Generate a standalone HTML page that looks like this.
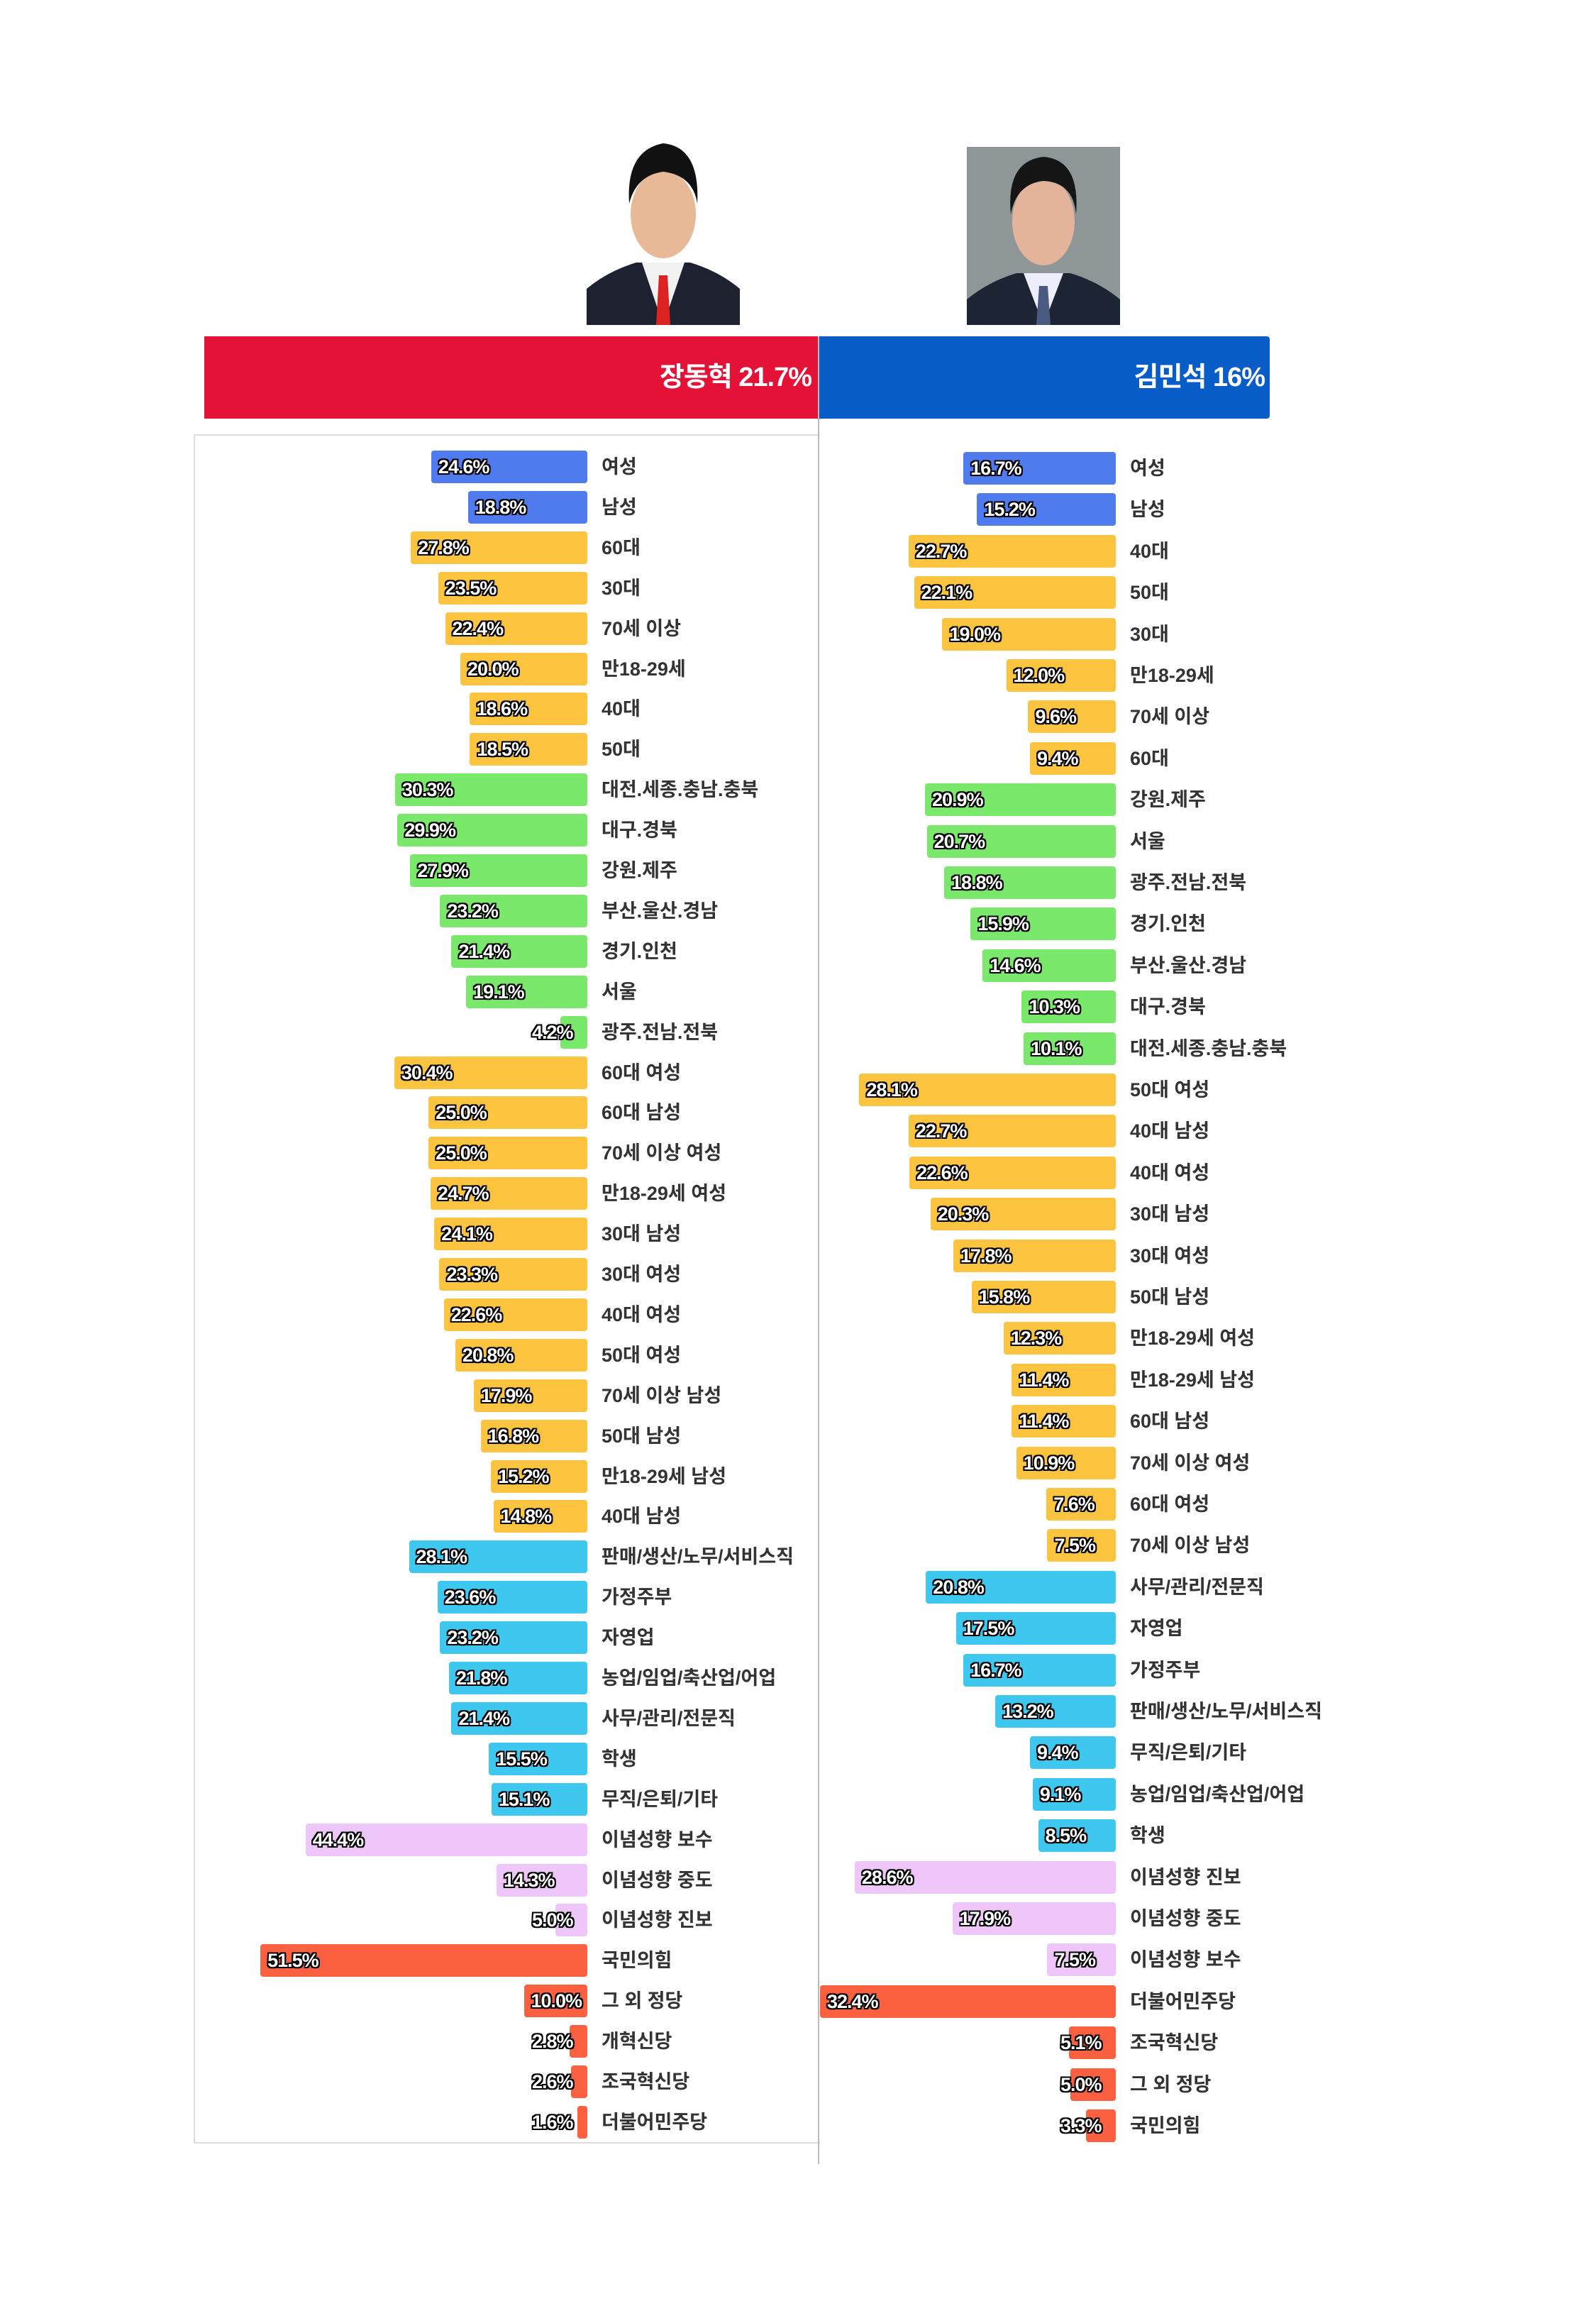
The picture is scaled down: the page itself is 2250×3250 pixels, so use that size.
<!DOCTYPE html>
<html><head><meta charset="utf-8"><style>
body{margin:0;width:2250px;height:3250px;background:#fff;position:relative;overflow:hidden;font-family:"Liberation Sans","Noto Sans CJK KR",sans-serif;}
.a{position:absolute}
.bar{position:absolute;height:46px;border-radius:4px}
.pv{position:absolute;font-size:27px;font-weight:bold;color:#fff;line-height:46px;letter-spacing:-1px;
text-shadow:-2px -2px 0 #000,2px -2px 0 #000,-2px 2px 0 #000,2px 2px 0 #000,0 2px 0 #000,0 -2px 0 #000,2px 0 0 #000,-2px 0 0 #000;}
.lb{position:absolute;font-size:27px;font-weight:bold;color:#333;line-height:46px;white-space:nowrap}
.hd{position:absolute;color:#fff;font-weight:bold;font-size:38px;line-height:116px;letter-spacing:-1px}
</style></head><body>
<svg class="a" style="left:827px;top:192px" width="216" height="266" viewBox="0 0 216 266">
<rect width="216" height="266" fill="#fff"/>
<path d="M0 266 L0 215 Q30 190 70 178 L146 178 Q186 190 216 215 L216 266Z" fill="#1e2230"/>
<path d="M78 178 L108 266 L138 178Z" fill="#f2f2f2"/>
<path d="M102 196 L114 196 L118 266 L98 266Z" fill="#d22"/>
<ellipse cx="108" cy="110" rx="46" ry="62" fill="#e7b996"/>
<path d="M60 95 Q55 20 108 10 Q160 15 156 95 Q150 55 108 50 Q70 55 60 95Z" fill="#111"/>
</svg>
<svg class="a" style="left:1363px;top:207px" width="216" height="251" viewBox="0 0 216 251">
<rect width="216" height="251" fill="#8e9698"/>
<path d="M0 251 L0 215 Q30 190 70 178 L146 178 Q186 190 216 215 L216 251Z" fill="#1d2433"/>
<path d="M80 178 L108 251 L136 178Z" fill="#eef"/>
<path d="M102 196 L114 196 L118 251 L98 251Z" fill="#4a5a80"/>
<ellipse cx="108" cy="105" rx="44" ry="62" fill="#e3b49a"/>
<path d="M62 95 Q55 20 108 14 Q160 18 154 95 Q150 50 108 48 Q70 52 62 95Z" fill="#151515"/>
</svg>
<div class="a" style="left:288px;top:474px;width:866px;height:116px;background:#e51238"></div>
<div class="a" style="left:1155px;top:474px;width:635px;height:116px;background:#085cc8;border-radius:0 4px 4px 0"></div>
<div class="hd" style="right:1106px;top:474px">장동혁 21.7%</div>
<div class="hd" style="right:467px;top:474px">김민석 16%</div>
<div class="a" style="left:273px;top:612px;width:881px;height:2405px;border-left:2px solid #ddd;border-top:2px solid #ddd;border-bottom:2px solid #ddd"></div>
<div class="a" style="left:1153px;top:474px;width:2px;height:2576px;background:#bbb"></div>
<div id="c"></div>
<script>
const C={b:'#4f7bef',y:'#fdc43f',g:'#7ae86a',c:'#3ec8f0',l:'#efc6f9',r:'#fb6040'};
const L=[['b',24.6,'여성'],['b',18.8,'남성'],['y',27.8,'60대'],['y',23.5,'30대'],['y',22.4,'70세 이상'],['y',20.0,'만18-29세'],['y',18.6,'40대'],['y',18.5,'50대'],
['g',30.3,'대전.세종.충남.충북'],['g',29.9,'대구.경북'],['g',27.9,'강원.제주'],['g',23.2,'부산.울산.경남'],['g',21.4,'경기.인천'],['g',19.1,'서울'],['g',4.2,'광주.전남.전북'],
['y',30.4,'60대 여성'],['y',25.0,'60대 남성'],['y',25.0,'70세 이상 여성'],['y',24.7,'만18-29세 여성'],['y',24.1,'30대 남성'],['y',23.3,'30대 여성'],['y',22.6,'40대 여성'],['y',20.8,'50대 여성'],['y',17.9,'70세 이상 남성'],['y',16.8,'50대 남성'],['y',15.2,'만18-29세 남성'],['y',14.8,'40대 남성'],
['c',28.1,'판매/생산/노무/서비스직'],['c',23.6,'가정주부'],['c',23.2,'자영업'],['c',21.8,'농업/임업/축산업/어업'],['c',21.4,'사무/관리/전문직'],['c',15.5,'학생'],['c',15.1,'무직/은퇴/기타'],
['l',44.4,'이념성향 보수'],['l',14.3,'이념성향 중도'],['l',5.0,'이념성향 진보'],
['r',51.5,'국민의힘'],['r',10.0,'그 외 정당'],['r',2.8,'개혁신당'],['r',2.6,'조국혁신당'],['r',1.6,'더불어민주당']];
const R=[['b',16.7,'여성'],['b',15.2,'남성'],['y',22.7,'40대'],['y',22.1,'50대'],['y',19.0,'30대'],['y',12.0,'만18-29세'],['y',9.6,'70세 이상'],['y',9.4,'60대'],
['g',20.9,'강원.제주'],['g',20.7,'서울'],['g',18.8,'광주.전남.전북'],['g',15.9,'경기.인천'],['g',14.6,'부산.울산.경남'],['g',10.3,'대구.경북'],['g',10.1,'대전.세종.충남.충북'],
['y',28.1,'50대 여성'],['y',22.7,'40대 남성'],['y',22.6,'40대 여성'],['y',20.3,'30대 남성'],['y',17.8,'30대 여성'],['y',15.8,'50대 남성'],['y',12.3,'만18-29세 여성'],['y',11.4,'만18-29세 남성'],['y',11.4,'60대 남성'],['y',10.9,'70세 이상 여성'],['y',7.6,'60대 여성'],['y',7.5,'70세 이상 남성'],
['c',20.8,'사무/관리/전문직'],['c',17.5,'자영업'],['c',16.7,'가정주부'],['c',13.2,'판매/생산/노무/서비스직'],['c',9.4,'무직/은퇴/기타'],['c',9.1,'농업/임업/축산업/어업'],['c',8.5,'학생'],
['l',28.6,'이념성향 진보'],['l',17.9,'이념성향 중도'],['l',7.5,'이념성향 보수'],
['r',32.4,'더불어민주당'],['r',5.1,'조국혁신당'],['r',5.0,'그 외 정당'],['r',3.3,'국민의힘']];
let h='';
function draw(D,right,scale,y0,pitch){
 D.forEach((d,i)=>{
  const y=Math.round(y0+i*pitch-23), w=d[1]*scale, l=right-w;
  const t=d[1].toFixed(1)+'%';
  const tl=Math.min(l+10,right-78);
  h+=`<div class="bar" style="left:${l}px;top:${y}px;width:${w}px;background:${C[d[0]]}"></div>`;
  h+=`<div class="pv" style="left:${tl}px;top:${y}px">${t}</div>`;
  h+=`<div class="lb" style="left:${right+20}px;top:${y}px">${d[2]}</div>`;
 });
}
draw(L,828,8.95,658,56.9);
draw(R,1573,12.87,660,58.4);
document.getElementById('c').innerHTML=h;
</script>
</body></html>
